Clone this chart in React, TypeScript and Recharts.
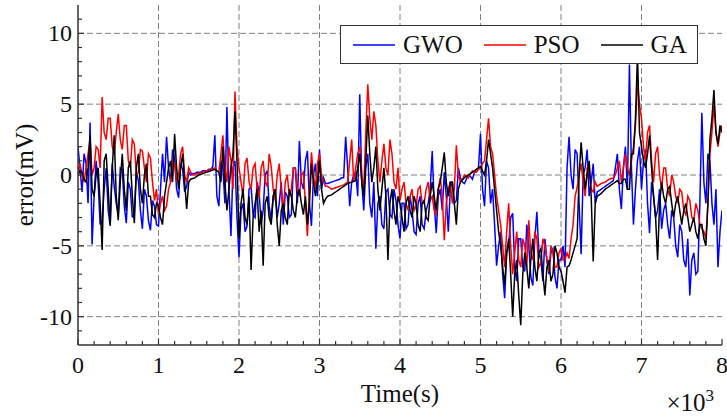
import React from 'react';
import { LineChart, Line, XAxis, YAxis, CartesianGrid, Legend } from 'recharts';

const FONT = '"Liberation Serif", "Times New Roman", serif';

// one reading every STEP samples (one row = 500 samples)
const STEP = 25;

const gwo = [
    2.0, 0.5, -1.2, 1.5, 0.8, -2.0, 3.7, -4.9, -1.5, 1.0, -0.5, -3.5, -3.2, -1.0, 0.5, -2.5, -3.6, 0.8, -0.8, -2.0,
    -2.8, 0.5, 0.4, -2.2, -3.4, -0.5, -1.0, -3.0, -2.6, 0.2, -0.4, -2.5, -3.8, -1.0, -1.5, -3.2, -3.9, -1.8, -2.2, -3.5,
    -3.6, -1.0, 1.5, -0.5, 2.7, 0.5, -0.5, 1.8, 1.2, -1.0, -1.6, 0.8, 0.4, -1.2, -0.8, 0.2, 0.0, 0.1, 0.1, 0.2,
    0.2, 0.2, 0.3, 0.3, 0.3, 0.4, 0.4, 0.6, 2.8, -1.5, -2.2, 1.0, 0.5, -2.0, 4.8, -1.0, -4.3, 0.5, 1.0, -3.0,
    -5.8, -2.5, -2.0, -4.0, -3.6, -1.0, -0.8, -2.8, -3.0, -0.5, -1.2, -3.5, -2.5, 0.0, 0.3, -2.2, -3.2, -1.5, -1.0, -3.0,
    -2.0, -0.5, -3.5, -1.2, -1.5, -3.0, -2.8, 0.5, 0.5, -2.0, 2.4, -0.5, -1.0, 1.0, 1.7, -2.0, -3.6, 0.0, 0.8, -1.5,
    1.8, -1.0, -0.2, -0.6, -0.6, -0.55, -0.5, -0.45, -0.4, -0.35, -0.3, -0.2, -0.2, 2.7, 0.5, -2.2, -0.5, 0.0, 0.2, -1.5,
    5.7, -0.5, -2.5, 0.5, 1.5, -2.0, -3.0, -0.5, -5.2, -2.0, -1.5, -3.5, -3.8, -1.2, -1.0, -2.8, -3.0, -1.0, -1.8, -3.5,
    -4.5, -2.0, -2.0, -3.8, -3.5, -1.5, -2.5, -4.0, -4.2, -2.0, -1.5, -3.5, -3.8, -2.5, -2.0, -1.0, 1.7, -2.0, -4.1, -1.5,
    -1.0, -2.5, 0.2, -1.5, -4.0, -1.0, -0.5, -2.0, -1.8, 0.5, -0.2, -0.5, -0.6, -0.3, 0.0, -0.1, -0.3, 0.2, 0.4, 0.5,
    2.9, -1.0, -2.2, 1.0, 0.5, -2.0, -1.0, -3.5, -6.4, -5.0, -4.0, -7.0, -8.7, -5.5, -5.0, -3.0, -2.7, -6.5, -7.5, -4.5,
    -4.5, -6.5, -6.8, -3.5, -5.0, -7.2, -7.8, -4.5, -2.6, -5.5, -6.0, -7.5, -4.5, -6.0, -7.0, -5.5, -5.2, -7.2, -8.0, -6.0,
    -6.0, -5.0, -6.5, 0.5, 2.7, 0.0, -1.0, 1.8, 1.5, -2.0, -5.6, 0.0, 0.5, 1.8, -1.5, -0.5, 0.8, -2.0, -1.2, -1.1,
    -1.0, -0.9, -0.8, -0.7, -0.6, -0.5, -0.4, 0.5, 1.5, -1.0, -2.4, 0.5, 2.0, -1.0, 7.8, 0.5, -3.5, -1.0, 1.0, 2.0,
    -1.0, 1.0, 1.8, -2.0, -4.1, -0.5, -1.5, -3.0, -2.5, -1.0, -3.8, -2.5, -2.0, -3.5, -4.5, -2.5, -3.0, -5.0, -5.8, -3.5,
    -4.0, -6.0, -6.5, -4.5, -8.5, -6.0, -5.5, -7.0, -6.8, -2.0, 4.4, -0.5, -2.0, 1.5, 1.0, -2.0, -3.5, -1.0, -6.5, -4.0,
    -2.5,
];

const pso = [
    0.3, 0.8, 0.0, -0.5, 0.5, 1.5, 2.5, 0.0, 0.5, 2.0, 1.8, 0.5, 5.5, 3.0, 2.5, 4.0, 4.0, 2.0, 1.5, 3.0,
    4.3, 2.5, 1.8, 3.5, 3.5, 1.0, 0.5, 2.5, 2.2, 0.0, 0.2, 1.8, 1.7, 0.5, -0.5, 1.5, 1.2, -0.5, -1.8, -1.0,
    -2.8, -2.0, -1.5, -2.5, -2.2, -1.0, -0.5, 1.0, 0.8, -0.5, 0.0, 1.5, 2.0, 0.0, -0.5, 0.5, 0.2, 0.0, 0.0, 0.1,
    0.1, 0.15, 0.2, 0.25, 0.3, 0.35, 0.4, 0.45, 0.5, 0.3, 0.2, 1.5, 2.8, 0.5, -0.5, 2.0, 1.0, -1.0, 5.9, 2.0,
    0.5, -0.5, -1.5, 0.8, 1.2, -0.5, -1.0, 0.5, 0.8, -1.0, -1.6, 0.5, 1.0, -0.5, -0.8, 1.5, 0.6, -1.0, -1.8, 0.0,
    0.8, -1.0, -2.5, -0.5, 0.0, -1.5, -1.0, 0.5, 0.5, -1.0, -1.5, 0.0, 0.2, -2.0, -4.3, -1.0, 1.6, 0.0, -1.0, 0.8,
    1.5, 0.0, -0.5, -0.8, -0.8, -0.9, -1.0, -0.95, -0.9, -0.85, -0.8, -0.75, -0.7, -0.6, -0.5, 1.0, 2.5, -0.5, 0.5, 1.5,
    2.0, 0.0, -1.0, 3.0, 6.4, 4.0, 2.5, 4.5, 3.5, 1.0, -0.5, 1.0, 2.2, 0.5, 0.0, 2.5, 1.5, -0.5, -1.0, 0.5,
    -1.8, -1.0, -0.5, -2.0, -2.5, -1.5, -1.0, -2.5, -2.2, -1.0, -0.8, -2.0, -2.0, -1.0, -0.5, -1.8, -1.5, -2.5, -2.8, -1.0,
    -0.2, -1.5, -4.6, -2.0, -1.0, -0.5, -2.0, -1.0, 2.1, 0.0, -0.5, -0.3, 0.0, -0.1, -0.2, 0.1, 0.3, 0.2, 0.2, 0.4,
    0.5, 0.8, 1.0, 2.5, 4.0, 2.0, 1.5, 0.0, -1.5, -2.5, -3.5, -5.0, -6.5, -4.0, -2.0, -5.0, -7.0, -5.5, -4.0, -6.0,
    -6.5, -4.5, -5.0, -6.5, -3.2, -5.5, -6.0, -4.0, -4.5, -6.5, -6.2, -4.5, -5.0, -6.0, -6.8, -5.0, -5.5, -6.5, -6.5, -5.5,
    -5.2, -6.0, -6.0, -5.5, -5.9, -4.5, -3.5, -1.5, -0.9, 0.0, 0.8, -0.5, -1.5, 0.5, 0.5, -1.0, -1.2, -0.5, -0.8, -0.7,
    -0.6, -0.55, -0.5, -0.4, -0.3, -0.25, -0.2, 0.0, 0.5, 1.0, -0.5, 0.5, 1.5, 0.5, 0.0, 1.0, 2.0, 3.5, 6.5, 5.0,
    4.0, 2.0, 1.0, 3.0, 3.5, 1.0, -0.5, 1.5, 2.0, 0.0, -1.0, 0.5, 0.5, -1.0, -1.5, 0.0, -0.5, -1.5, -2.0, -1.0,
    -1.2, -2.5, -2.8, -1.5, -1.8, -3.0, -3.2, -2.0, -2.5, -3.5, -3.8, -4.0, -4.5, -2.0, 1.5, 3.0, 4.9, 3.0, 2.0, 3.0,
    3.5,
];

const ga = [
    0.0, 0.3, 0.2, -0.3, -0.5, 0.5, 2.8, -1.0, -1.5, 0.0, 0.5, -2.0, -5.3, 1.0, 1.5, -1.0, -3.5, 0.5, 2.8, -1.5,
    -3.2, -0.5, 1.5, -1.0, -2.5, 0.5, 1.0, -1.5, -3.4, 0.5, 1.5, -1.0, -2.0, 0.0, 0.8, -1.5, -1.5, -2.8, -3.0, -2.0,
    -2.2, -3.0, -3.5, -1.5, -0.5, 0.5, 1.0, -0.5, 2.9, 0.5, -1.0, 0.5, 1.5, -0.5, -2.4, -0.5, -0.3, -0.25, -0.2, -0.1,
    0.0, 0.05, 0.1, 0.15, 0.2, 0.25, 0.3, 0.35, 0.4, 0.3, 0.2, -0.5, 2.0, -0.5, -2.5, -1.0, 0.5, 1.5, 4.5, 1.0,
    -4.5, -2.0, -1.0, -3.0, -3.5, -1.5, -6.7, -3.0, -2.0, -1.0, -4.0, -2.5, -6.4, -2.0, -1.5, -3.0, -3.5, -1.5, -1.0, -3.5,
    -5.0, -2.5, -2.0, -3.0, -3.5, -1.0, -1.5, -2.5, -3.0, -1.5, -1.0, -2.0, -2.8, -1.5, -3.5, -2.0, 0.8, -0.5, -1.5, -0.5,
    1.0, -1.0, -2.0, -1.7, -1.5, -1.45, -1.4, -1.3, -1.2, -1.1, -1.0, -0.9, -0.8, -0.7, -0.6, -0.55, -0.5, -0.45, -0.4, 0.5,
    1.5, -0.5, -1.5, 1.0, 4.2, 1.5, -0.5, 0.5, 2.0, -1.0, -2.5, -1.0, 0.5, -1.5, -6.0, -2.0, -1.0, -2.5, -3.5, -1.5,
    -2.0, -3.0, -4.0, -2.0, -1.5, -2.5, -3.0, -1.5, -2.0, -3.5, -4.0, -2.0, -1.8, -3.0, -3.2, -1.5, -0.5, -1.5, -2.5, -1.0,
    -0.5, 0.5, 1.6, -0.5, -1.5, -0.5, -0.5, -2.0, -3.5, -1.0, -0.5, -0.35, -0.2, -0.1, 0.0, 0.1, 0.2, 0.3, 0.4, 0.5,
    0.6, 0.3, 0.0, 1.0, 2.5, 1.5, 0.5, -1.0, -2.5, -4.0, -5.0, -6.5, -7.8, -5.5, -4.5, -7.0, -10.0, -7.0, -6.0, -8.5,
    -10.6, -7.0, -5.5, -6.5, -8.0, -6.0, -4.5, -6.5, -7.5, -5.5, -5.2, -7.0, -8.5, -6.5, -6.0, -7.5, -7.0, -5.0, -5.5, -6.5,
    -6.8, -7.5, -8.3, -6.5, -6.4, -6.0, -5.5, -5.0, -4.5, 0.0, 2.3, 0.5, -1.0, 0.0, 1.0, -1.5, -6.1, -2.0, -1.5, -1.4,
    -1.3, -1.15, -1.0, -0.9, -0.8, -0.7, -0.6, -0.5, -0.4, -0.6, -0.6, -0.3, -0.3, -1.0, -1.0, 1.5, 1.5, 4.0, 8.5, 3.0,
    2.0, 1.0, 0.5, 1.5, 2.8, 0.5, -1.5, -3.0, -6.0, -2.0, -0.5, -1.5, -2.0, -1.0, -0.8, -2.0, -3.0, -2.0, -1.5, -2.5,
    -3.5, -2.5, -2.0, -3.0, -4.0, -3.5, -3.0, -4.0, -4.5, -3.5, -3.5, -4.5, -5.0, -2.0, 2.5, 4.0, 6.0, 3.0, 2.2, 3.5,
    3.0,
];

const xMajor = [0, 1000, 2000, 3000, 4000, 5000, 6000, 7000, 8000];
const yMajor = [-10, -5, 0, 5, 10];
const xTicks = Array.from({ length: 41 }, (_, i) => i * 200);
const yTicks = Array.from({ length: 23 }, (_, i) => i - 11);

const series = [
    { key: 'gwo', name: 'GWO', color: '#0000ff' },
    { key: 'pso', name: 'PSO', color: '#ff0000' },
    { key: 'ga', name: 'GA', color: '#000000' },
];

const data = gwo.map((v, i) => ({ t: i * STEP, gwo: v, pso: pso[i], ga: ga[i] }));

const AXIS = '#333';

const BottomTick = (props: any) => {
    const { x, y, payload } = props;
    const major = xMajor.includes(payload.value);
    return (
        <g>
            <line x1={x} x2={x} y1={y} y2={y - (major ? 6 : 4)} stroke={AXIS} strokeWidth={1.2} />
            {major && (
                <text x={x} y={y + 28} textAnchor="middle" fontFamily={FONT} fontSize={24} fill="#111">
                    {payload.value / 1000}
                </text>
            )}
        </g>
    );
};

const TopTick = (props: any) => {
    const { x, y, payload } = props;
    const major = xMajor.includes(payload.value);
    return <line x1={x} x2={x} y1={y} y2={y + (major ? 6 : 4)} stroke={AXIS} strokeWidth={1.2} />;
};

const LeftTick = (props: any) => {
    const { x, y, payload } = props;
    const major = yMajor.includes(payload.value);
    return (
        <g>
            <line x1={x} x2={x + (major ? 6 : 4)} y1={y} y2={y} stroke={AXIS} strokeWidth={1.2} />
            {major && (
                <text x={x - 6} y={y + 8} textAnchor="end" fontFamily={FONT} fontSize={24} fill="#111">
                    {payload.value}
                </text>
            )}
        </g>
    );
};

const RightTick = (props: any) => {
    const { x, y, payload } = props;
    const major = yMajor.includes(payload.value);
    return <line x1={x} x2={x - (major ? 6 : 4)} y1={y} y2={y} stroke={AXIS} strokeWidth={1.2} />;
};

const LegendBox = () => (
    <div
        style={{
            width: 358,
            height: 39,
            boxSizing: 'border-box',
            border: `1.5px solid ${AXIS}`,
            background: '#fff',
            display: 'flex',
            alignItems: 'center',
            paddingLeft: 12,
            fontFamily: FONT,
            fontSize: 25,
            color: '#111',
        }}
    >
        {series.map(s => (
            <div key={s.key} style={{ display: 'flex', alignItems: 'center', marginRight: 21 }}>
                <svg width={42} height={4} style={{ marginRight: 8 }}>
                    <line x1={0} x2={42} y1={2} y2={2} stroke={s.color} strokeWidth={1.5} />
                </svg>
                <span>{s.name}</span>
            </div>
        ))}
    </div>
);

export default function App() {
    return (
        <div style={{ position: 'absolute', left: 0, top: 0, width: 727, height: 416, background: '#fff' }}>
            <LineChart width={727} height={416} data={data} margin={{ top: 5, right: 5, bottom: 41, left: 28 }}>
                <CartesianGrid
                    stroke="#808080"
                    strokeDasharray="6 3"
                    horizontalValues={yMajor}
                    verticalValues={xMajor.slice(1, -1)}
                />
                <XAxis
                    dataKey="t"
                    type="number"
                    domain={[0, 8000]}
                    allowDataOverflow
                    ticks={xTicks}
                    interval={0}
                    tickSize={0}
                    tickMargin={0}
                    tickLine={false}
                    tick={(p: any) => <BottomTick {...p} />}
                    axisLine={{ stroke: AXIS, strokeWidth: 1.5 }}
                    height={30}
                />
                <XAxis
                    xAxisId="top"
                    orientation="top"
                    type="number"
                    domain={[0, 8000]}
                    allowDataOverflow
                    ticks={xTicks}
                    interval={0}
                    tickSize={0}
                    tickMargin={0}
                    tickLine={false}
                    tick={(p: any) => <TopTick {...p} />}
                    axisLine={{ stroke: AXIS, strokeWidth: 1.5 }}
                    height={0}
                />
                <YAxis
                    type="number"
                    domain={[-12, 12]}
                    allowDataOverflow
                    ticks={yTicks}
                    interval={0}
                    tickSize={0}
                    tickMargin={0}
                    tickLine={false}
                    tick={(p: any) => <LeftTick {...p} />}
                    axisLine={{ stroke: AXIS, strokeWidth: 1.5 }}
                    width={50}
                />
                <YAxis
                    yAxisId="right"
                    orientation="right"
                    type="number"
                    domain={[-12, 12]}
                    allowDataOverflow
                    ticks={yTicks}
                    interval={0}
                    tickSize={0}
                    tickMargin={0}
                    tickLine={false}
                    tick={(p: any) => <RightTick {...p} />}
                    axisLine={{ stroke: AXIS, strokeWidth: 1.5 }}
                    width={0}
                />
                <Legend
                    layout="vertical"
                    align="center"
                    verticalAlign="middle"
                    content={() => <LegendBox />}
                    wrapperStyle={{ top: 25, left: 340, width: 358, height: 39 }}
                />
                {series.map(s => (
                    <Line
                        key={s.key}
                        dataKey={s.key}
                        name={s.name}
                        stroke={s.color}
                        strokeWidth={1.5}
                        dot={false}
                        activeDot={false}
                        isAnimationActive={false}
                    />
                ))}
            </LineChart>
            <svg width={727} height={416} style={{ position: 'absolute', left: 0, top: 0, pointerEvents: 'none' }}>
                <text x={400} y={402} textAnchor="middle" fontFamily={FONT} fontSize={25} fill="#111">
                    Time(s)
                </text>
                <text
                    transform="translate(33,175) rotate(-90)"
                    textAnchor="middle"
                    fontFamily={FONT}
                    fontSize={25}
                    fill="#111"
                >
                    error(mV)
                </text>
                <text x={714} y={411} textAnchor="end" fontFamily={FONT} fontSize={25} fill="#111">
                    ×10<tspan dy={-10} fontSize={17}>3</tspan>
                </text>
            </svg>
        </div>
    );
}
